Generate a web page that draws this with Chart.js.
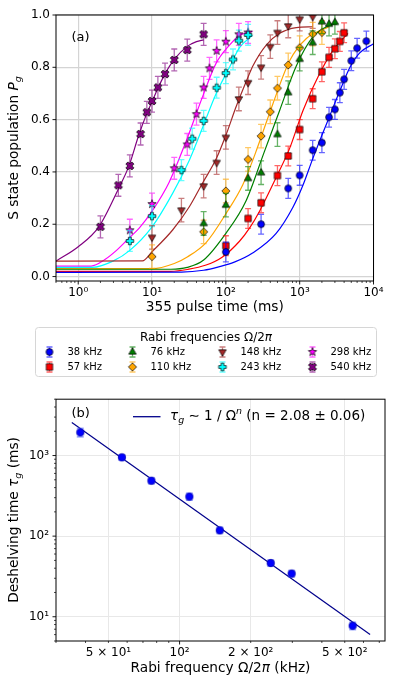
<!DOCTYPE html>
<html><head><meta charset="utf-8">
<script src="https://cdn.jsdelivr.net/npm/chart.js@4.4.0/dist/chart.umd.min.js"></script>
<style>
html,body{margin:0;padding:0;background:#fff;}
#wrap{position:relative;width:397px;height:683px;overflow:hidden;}
#ca{position:absolute;left:0;top:0;}
#cb{position:absolute;left:0;top:385px;}
</style></head><body>
<div id="wrap">
<canvas id="ca" width="397" height="385"></canvas>
<canvas id="cb" width="397" height="298"></canvas>
</div>
<script>
// ================= DATA : panel (a) =================
const seriesLabels = ['38 kHz','57 kHz','76 kHz','110 kHz','148 kHz','243 kHz','298 kHz','540 kHz'];

const t38 = [100, 300, 700, 1000, 1500, 2000, 2500, 3000, 3500, 4000, 5000, 6000, 8000];
const p38 = [0.094, 0.200, 0.337, 0.387, 0.483, 0.512, 0.609, 0.639, 0.703, 0.754, 0.825, 0.873, 0.900];
const e38 = 0.038;
const fitT38 = [0.5, 25, 50, 80, 130, 230, 480, 810, 1110, 1500, 2000, 2560, 3500, 4800, 6500, 10000];
const fitP38 = [0.016, 0.017, 0.024, 0.037, 0.055, 0.09, 0.165, 0.265, 0.35, 0.45, 0.54, 0.615, 0.71, 0.80, 0.855, 0.89];

const t57 = [100, 200, 300, 500, 700, 1000, 1500, 2000, 2500, 3000, 3500, 4000];
const p57 = [0.118, 0.222, 0.282, 0.386, 0.461, 0.562, 0.680, 0.783, 0.838, 0.871, 0.899, 0.932];
const e57 = 0.038;
const fitT57 = [0.5, 18, 30, 54, 90, 153, 209, 286, 482, 731, 1110, 1870, 2840, 4500];
const fitP57 = [0.02, 0.02, 0.027, 0.044, 0.075, 0.135, 0.185, 0.25, 0.38, 0.49, 0.635, 0.777, 0.866, 0.93];

const t76 = [50, 100, 200, 300, 500, 700, 1000, 1500, 2000, 2500, 3000];
const p76 = [0.203, 0.273, 0.375, 0.397, 0.543, 0.703, 0.831, 0.894, 0.974, 0.965, 0.972];
const e76 = 0.045;
const fitT76 = [0.5, 18, 30, 50, 100, 188, 325, 535, 900, 1500, 2500, 3200];
const fitP76 = [0.028, 0.028, 0.035, 0.063, 0.165, 0.29, 0.47, 0.635, 0.805, 0.915, 0.96, 0.966];

const t110 = [10, 50, 100, 200, 300, 400, 500, 700, 1000, 1500, 2000];
const p110 = [0.076, 0.171, 0.327, 0.448, 0.537, 0.630, 0.720, 0.809, 0.875, 0.927, 0.933];
const e110 = 0.045;
const fitT110 = [0.5, 10, 20, 30, 54, 100, 169, 250, 433, 731, 1233, 2500];
const fitP110 = [0.03, 0.03, 0.05, 0.075, 0.13, 0.24, 0.35, 0.47, 0.66, 0.825, 0.91, 0.955];

const t148 = [10, 25, 50, 75, 100, 150, 200, 300, 400, 500, 700, 1000, 1500];
const p148 = [0.150, 0.254, 0.346, 0.436, 0.532, 0.679, 0.741, 0.800, 0.879, 0.933, 0.958, 0.984, 0.994];
const e148 = 0.045;
const fitT148 = [0.5, 7.4, 10, 19, 32, 48, 74, 100, 138, 198, 232, 352, 535, 900, 1500];
const fitP148 = [0.059, 0.06, 0.095, 0.178, 0.267, 0.356, 0.45, 0.54, 0.65, 0.76, 0.805, 0.885, 0.93, 0.952, 0.955];

const t243 = [5, 10, 25, 35, 50, 75, 100, 125, 150, 200];
const p243 = [0.136, 0.231, 0.407, 0.527, 0.595, 0.722, 0.778, 0.830, 0.902, 0.924];
const e243 = 0.04;
const fitT243 = [0.5, 1.55, 3, 5, 10, 19, 32, 44, 74, 112, 153, 230];
const fitP243 = [0.035, 0.035, 0.06, 0.10, 0.19, 0.318, 0.445, 0.54, 0.70, 0.80, 0.875, 0.922];

const t298 = [5, 10, 20, 30, 40, 50, 60, 75, 100, 150, 200];
const p298 = [0.177, 0.277, 0.414, 0.505, 0.621, 0.723, 0.796, 0.863, 0.898, 0.926, 0.933];
const e298 = 0.042;
const fitT298 = [0.5, 1.5, 2.3, 3.3, 5, 6.7, 10, 17, 28.7, 48.4, 73.6, 112, 153, 230];
const fitP298 = [0.04, 0.04, 0.065, 0.10, 0.15, 0.185, 0.25, 0.36, 0.515, 0.688, 0.815, 0.885, 0.922, 0.938];

const t540 = [2, 3.5, 5, 7, 8.5, 10, 12, 15, 20, 30, 50];
const p540 = [0.190, 0.349, 0.423, 0.545, 0.628, 0.671, 0.723, 0.774, 0.828, 0.866, 0.926];
const e540 = 0.042;
const fitT540 = [0.5, 1, 1.9, 3.5, 4.9, 6.6, 8.4, 10, 12, 15, 20, 30, 40, 50];
const fitP540 = [0.059, 0.114, 0.19, 0.335, 0.425, 0.54, 0.62, 0.668, 0.72, 0.775, 0.83, 0.88, 0.898, 0.905];

const aXTickVals = [1, 10, 100, 1000, 10000];
const aXTickLabels = ['10⁰', '10¹', '10²', '10³', '10⁴'];
const aYTickVals = [0, 0.2, 0.4, 0.6, 0.8, 1.0];
const aYTickLabels = ['0.0', '0.2', '0.4', '0.6', '0.8', '1.0'];

// ================= DATA : panel (b) =================
const rabiKHz = [38, 57, 76, 110, 148, 243, 298, 540];
const tauMs = [1937, 950, 487, 309, 118, 46.4, 34.3, 7.72];
const tauErr = [230, 70, 40, 30, 10, 4, 3, 0.8];
const fitRabi = [35, 640];
const fitTau = [2577, 6.03];
const bXTickVals = [50, 100, 200, 500];
const bXTickLabels = ['5 × 10¹', '10²', '2 × 10²', '5 × 10²'];
const bYTickVals = [10, 100, 1000];
const bYTickLabels = ['10¹', '10²', '10³'];

// ================= helpers =================
const FONT = "'DejaVu Sans', 'Liberation Sans', sans-serif";
Chart.defaults.font.family = FONT;
Chart.defaults.color = '#000';
function fontStr(size, it) { return (it ? 'italic ' : '') + size + 'px ' + FONT; }
function segSize(s, size) { return (s.sub || s.sup) ? size * 0.7 : size; }
function richMeasure(ctx, segs, size) {
  let w = 0;
  for (const s of segs) { ctx.font = fontStr(segSize(s, size), s.it); w += ctx.measureText(s.t).width; }
  return w;
}
function richDraw(ctx, segs, x, y, size, align, rot) {
  ctx.save(); ctx.translate(x, y); if (rot) ctx.rotate(rot);
  const w = richMeasure(ctx, segs, size);
  let cx = align === 'center' ? -w / 2 : (align === 'right' ? -w : 0);
  ctx.textBaseline = 'middle'; ctx.textAlign = 'left'; ctx.fillStyle = '#000';
  for (const s of segs) {
    ctx.font = fontStr(segSize(s, size), s.it);
    const dy = s.sub ? size * 0.3 : (s.sup ? -size * 0.36 : 0);
    ctx.fillText(s.t, cx, dy);
    cx += ctx.measureText(s.t).width;
  }
  ctx.restore();
}
function near(v, arr) { return arr.findIndex(a => Math.abs(v - a) <= Math.abs(a) * 1e-6 + 1e-9); }
function withAlpha(hex, a) {
  const n = parseInt(hex.slice(1), 16);
  return `rgba(${(n >> 16) & 255},${(n >> 8) & 255},${n & 255},${a})`;
}
function makeMarker(shape, fill, edge, scale) {
  const k = scale || 1;
  const S = 12, c = document.createElement('canvas'); c.width = S; c.height = S;
  const g = c.getContext('2d'); g.translate(S / 2, S / 2); g.scale(k, k); g.beginPath();
  const poly = pts => { pts.forEach((p, i) => i ? g.lineTo(p[0], p[1]) : g.moveTo(p[0], p[1])); g.closePath(); };
  const plus = (a, b) => [[-b,-a],[b,-a],[b,-b],[a,-b],[a,b],[b,b],[b,a],[-b,a],[-b,b],[-a,b],[-a,-b],[-b,-b]];
  switch (shape) {
    case 'circle': g.arc(0, 0, 3.4, 0, 2 * Math.PI); break;
    case 'square': g.rect(-3.2, -3.2, 6.4, 6.4); break;
    case 'tri': { const r = 4.3; poly([[0, -r], [r * 0.866, r * 0.5], [-r * 0.866, r * 0.5]]); break; }
    case 'tridown': { const r = 4.3; poly([[0, r], [r * 0.866, -r * 0.5], [-r * 0.866, -r * 0.5]]); break; }
    case 'diamond': poly([[0, -4.1], [4.1, 0], [0, 4.1], [-4.1, 0]]); break;
    case 'star': { const pts = []; for (let i = 0; i < 10; i++) { const r = i % 2 ? 1.8 : 4.4; const a = -Math.PI / 2 + i * Math.PI / 5; pts.push([r * Math.cos(a), r * Math.sin(a)]); } poly(pts); break; }
    case 'plus': poly(plus(3.8, 1.4)); break;
    case 'x': { g.rotate(Math.PI / 4); poly(plus(4.2, 1.5)); break; }
  }
  g.fillStyle = fill; g.fill(); g.lineWidth = 0.7; g.strokeStyle = edge; g.stroke();
  return c;
}

const colors = ['#0000ff', '#ff0000', '#008000', '#ffa500', '#a52a2a', '#00ffff', '#ff00ff', '#800080'];
const shapes = ['circle', 'square', 'tri', 'diamond', 'tridown', 'plus', 'star', 'x'];
const markers = colors.map((c, i) => makeMarker(shapes[i], c, '#000'));
const ptsT = [t38, t57, t76, t110, t148, t243, t298, t540];
const ptsP = [p38, p57, p76, p110, p148, p243, p298, p540];
const errs = [e38, e57, e76, e110, e148, e243, e298, e540];
const fitT = [fitT38, fitT57, fitT76, fitT110, fitT148, fitT243, fitT298, fitT540];
const fitP = [fitP38, fitP57, fitP76, fitP110, fitP148, fitP243, fitP298, fitP540];

// error bar plugin (draws just before each point dataset)
const errPlugin = {
  id: 'errbars',
  beforeDatasetDraw(chart, args) {
    const ds = chart.data.datasets[args.index];
    if (!ds.errY) return;
    const xs = chart.scales.x, ys = chart.scales.y, ctx = chart.ctx, a = chart.chartArea;
    ctx.save();
    ctx.beginPath(); ctx.rect(a.left, a.top, a.right - a.left, a.bottom - a.top); ctx.clip();
    ctx.strokeStyle = ds.errColor; ctx.lineWidth = ds.errWidth || 1.3;
    ds.data.forEach((p, i) => {
      const e = Array.isArray(ds.errY) ? ds.errY[i] : ds.errY;
      const px = xs.getPixelForValue(p.x);
      const y1 = ys.getPixelForValue(p.y - e), y2 = ys.getPixelForValue(p.y + e);
      const cw = ds.capW || 3;
      ctx.beginPath();
      ctx.moveTo(px, y1); ctx.lineTo(px, y2);
      ctx.moveTo(px - cw, y1); ctx.lineTo(px + cw, y1);
      ctx.moveTo(px - cw, y2); ctx.lineTo(px + cw, y2);
      ctx.stroke();
    });
    ctx.restore();
  }
};

function framePlugin(cfg) {
  return {
    id: 'frame',
    afterDraw(chart) {
      const ctx = chart.ctx, a = chart.chartArea, xs = chart.scales.x, ys = chart.scales.y;
      ctx.save();
      ctx.strokeStyle = '#000';
      const tk = (x1, y1, x2, y2) => { ctx.beginPath(); ctx.moveTo(x1, y1); ctx.lineTo(x2, y2); ctx.stroke(); };
      const inX = p => p >= a.left - 0.5 && p <= a.right + 0.5;
      const inY = p => p >= a.top - 0.5 && p <= a.bottom + 0.5;
      ctx.lineWidth = 0.9;
      cfg.xMajor.forEach(v => { const p = xs.getPixelForValue(v); if (inX(p)) tk(p, a.bottom, p, a.bottom + 3.5); });
      cfg.yMajor.forEach(v => { const p = ys.getPixelForValue(v); if (inY(p)) tk(a.left, p, a.left - 3.5, p); });
      ctx.lineWidth = 0.7;
      cfg.xMinor.forEach(v => { const p = xs.getPixelForValue(v); if (inX(p)) tk(p, a.bottom, p, a.bottom + 2); });
      cfg.yMinor.forEach(v => { const p = ys.getPixelForValue(v); if (inY(p)) tk(a.left, p, a.left - 2, p); });
      ctx.lineWidth = 1;
      ctx.strokeRect(a.left, a.top, a.right - a.left, a.bottom - a.top);
      cfg.extra(ctx, chart);
      ctx.restore();
    }
  };
}

// ================= chart (a) =================
const dsA = [];
for (let i = 0; i < 8; i++) {
  dsA.push({
    type: 'line', label: seriesLabels[i] + ' fit',
    data: fitT[i].map((x, k) => ({ x, y: fitP[i][k] })),
    borderColor: colors[i], borderWidth: 1.2, pointRadius: 0, fill: false,
    cubicInterpolationMode: 'monotone', order: 10
  });
}
for (let i = 0; i < 8; i++) {
  dsA.push({
    type: 'line', label: seriesLabels[i], showLine: false,
    data: ptsT[i].map((x, k) => ({ x, y: ptsP[i][k] })),
    pointStyle: markers[i], pointRadius: 4,
    errY: errs[i], errColor: withAlpha(colors[i], 0.6), capW: 3, order: 0
  });
}

const aXMinor = [], bXMinor = [30, 40, 50, 60, 70, 80, 90, 200, 300, 400, 500, 600, 700], bYMinor = [];
[0.1, 1, 10, 100, 1000].forEach(d => { for (let s = 2; s <= 9; s++) aXMinor.push(s * d); });
[1, 10, 100, 1000].forEach(d => { for (let s = 2; s <= 9; s++) bYMinor.push(s * d); });

function drawExtraA(ctx, chart) {
  ctx.font = fontStr(13, false); ctx.fillStyle = '#000'; ctx.textAlign = 'left'; ctx.textBaseline = 'middle';
  ctx.fillText('(a)', 71.5, 37.5);
  richDraw(ctx, [{ t: '355 pulse time (ms)' }], 214.8, 307.5, 13.7, 'center');
  richDraw(ctx, [{ t: 'S state population ' }, { t: 'P', it: true }, { t: 'g', it: true, sub: true }], 14, 148, 13.7, 'center', -Math.PI / 2);
  const L = 35.5, T = 327.5, R = 376.5, B = 376.5, r = 3;
  ctx.beginPath();
  ctx.moveTo(L + r, T); ctx.lineTo(R - r, T); ctx.quadraticCurveTo(R, T, R, T + r);
  ctx.lineTo(R, B - r); ctx.quadraticCurveTo(R, B, R - r, B); ctx.lineTo(L + r, B);
  ctx.quadraticCurveTo(L, B, L, B - r); ctx.lineTo(L, T + r); ctx.quadraticCurveTo(L, T, L + r, T); ctx.closePath();
  ctx.fillStyle = 'rgba(255,255,255,0.85)'; ctx.fill(); ctx.strokeStyle = '#d6d6d6'; ctx.lineWidth = 1; ctx.stroke();
  richDraw(ctx, [{ t: 'Rabi frequencies Ω/2' }, { t: 'π', it: true }], 206, 337.5, 12, 'center');
  const textX = [67.5, 150.5, 240.5, 330.5];
  const rowY = [352, 367];
  for (let i = 0; i < 8; i++) {
    const col = Math.floor(i / 2), row = i % 2;
    const mx = textX[col] - 18, my = rowY[row];
    ctx.strokeStyle = withAlpha(colors[i], 0.6); ctx.lineWidth = 1.3;
    ctx.beginPath(); ctx.moveTo(mx, my - 5); ctx.lineTo(mx, my + 5);
    ctx.moveTo(mx - 3, my - 5); ctx.lineTo(mx + 3, my - 5);
    ctx.moveTo(mx - 3, my + 5); ctx.lineTo(mx + 3, my + 5); ctx.stroke();
    ctx.drawImage(markers[i], mx - 6, my - 6);
    ctx.font = fontStr(10, false); ctx.fillStyle = '#000'; ctx.textAlign = 'left'; ctx.textBaseline = 'middle';
    ctx.fillText(seriesLabels[i], textX[col], my);
  }
}

new Chart(document.getElementById('ca'), {
  type: 'line',
  data: { datasets: dsA },
  options: {
    responsive: false, animation: false, events: [],
    layout: { padding: { top: 15, right: 23.5, left: 0, bottom: 0 } },
    plugins: { legend: { display: false }, tooltip: { enabled: false } },
    scales: {
      x: {
        type: 'logarithmic', min: 0.5, max: 10000,
        afterFit: s => { s.height = 104; },
        border: { display: false },
        grid: { drawTicks: false, lineWidth: 1.2, color: c => (c.tick && near(c.tick.value, aXTickVals) >= 0) ? '#d4d4d4' : 'rgba(0,0,0,0)' },
        ticks: { autoSkip: false, maxRotation: 0, padding: 5, font: { size: 12 },
          callback: v => { const k = near(v, aXTickVals); return k >= 0 ? aXTickLabels[k] : ''; } }
      },
      y: {
        type: 'linear', min: -0.017, max: 1.0,
        afterFit: s => { s.width = 56; },
        border: { display: false },
        grid: { drawTicks: false, lineWidth: 1.2, color: c => (c.tick && near(c.tick.value, aYTickVals) >= 0) ? '#d4d4d4' : 'rgba(0,0,0,0)' },
        ticks: { stepSize: 0.2, includeBounds: false, padding: 6, font: { size: 12 },
          callback: v => { const k = near(v, aYTickVals); return k >= 0 ? aYTickLabels[k] : ''; } }
      }
    }
  },
  plugins: [errPlugin, framePlugin({ xMajor: aXTickVals, xMinor: aXMinor, yMajor: aYTickVals, yMinor: [], extra: drawExtraA })]
});

// ================= chart (b) =================
function drawExtraB(ctx, chart) {
  ctx.font = fontStr(13, false); ctx.fillStyle = '#000'; ctx.textAlign = 'left'; ctx.textBaseline = 'middle';
  ctx.fillText('(b)', 71.5, 29);
  ctx.strokeStyle = '#00008b'; ctx.lineWidth = 1.3;
  ctx.beginPath(); ctx.moveTo(133, 31.7); ctx.lineTo(160.5, 31.7); ctx.stroke();
  richDraw(ctx, [{ t: 'τ', it: true }, { t: 'g', it: true, sub: true }, { t: ' ∼ 1 / Ω' }, { t: 'n', it: true, sup: true }, { t: ' (n = 2.08 ± 0.06)' }], 170, 31.7, 13.5, 'left');
  richDraw(ctx, [{ t: 'Rabi frequency Ω/2' }, { t: 'π', it: true }, { t: ' (kHz)' }], 220.5, 283, 13.7, 'center');
  richDraw(ctx, [{ t: 'Deshelving time ' }, { t: 'τ', it: true }, { t: 'g', it: true, sub: true }, { t: ' (ms)' }], 14, 135, 13.7, 'center', -Math.PI / 2);
}

const bMarker = makeMarker('circle', '#0000ff', '#0000b0', 1.1);
new Chart(document.getElementById('cb'), {
  type: 'line',
  data: {
    datasets: [
      { type: 'line', label: 'fit', data: fitRabi.map((x, k) => ({ x, y: fitTau[k] })),
        borderColor: '#00008b', borderWidth: 1.2, pointRadius: 0, fill: false, order: 10 },
      { type: 'line', label: 'tau', showLine: false, data: rabiKHz.map((x, k) => ({ x, y: tauMs[k] })),
        pointStyle: bMarker, pointRadius: 4, errY: tauErr, errColor: 'rgba(90,110,255,0.55)', errWidth: 1.8, capW: 3.5, order: 0 }
    ]
  },
  options: {
    responsive: false, animation: false, events: [],
    layout: { padding: { top: 14, right: 12, left: 0, bottom: 0 } },
    plugins: { legend: { display: false }, tooltip: { enabled: false } },
    scales: {
      x: {
        type: 'logarithmic', min: 30, max: 740,
        afterFit: s => { s.height = 42; },
        border: { display: false },
        grid: { drawTicks: false, lineWidth: 1, color: c => (c.tick && near(c.tick.value, bXTickVals) >= 0) ? '#e8e8e8' : 'rgba(0,0,0,0)' },
        ticks: { autoSkip: false, maxRotation: 0, padding: 5, font: { size: 12 },
          callback: v => { const k = near(v, bXTickVals); return k >= 0 ? bXTickLabels[k] : ''; } }
      },
      y: {
        type: 'logarithmic', min: 5, max: 5000,
        afterFit: s => { s.width = 56; },
        border: { display: false },
        grid: { drawTicks: false, lineWidth: 1, color: c => (c.tick && near(c.tick.value, bYTickVals) >= 0) ? '#e8e8e8' : 'rgba(0,0,0,0)' },
        ticks: { autoSkip: false, padding: 7, font: { size: 12 },
          callback: v => { const k = near(v, bYTickVals); return k >= 0 ? bYTickLabels[k] : ''; } }
      }
    }
  },
  plugins: [errPlugin, framePlugin({ xMajor: [100], xMinor: bXMinor, yMajor: bYTickVals, yMinor: bYMinor, extra: drawExtraB })]
});
</script>
</body></html>
